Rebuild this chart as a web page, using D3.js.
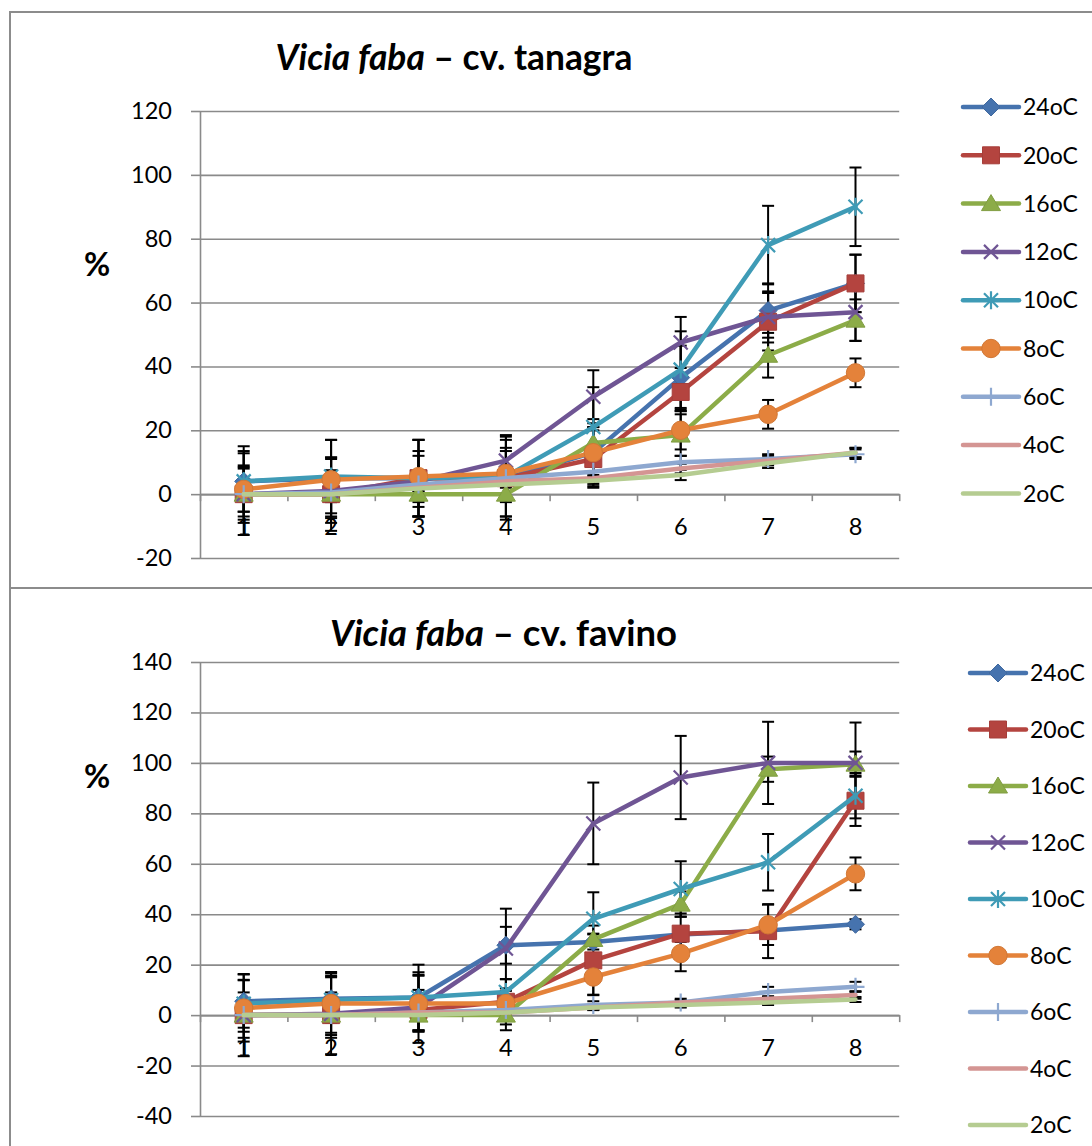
<!DOCTYPE html>
<html>
<head>
<meta charset="utf-8">
<script src="https://cdn.jsdelivr.net/npm/d3@7"></script>
<style>
  html, body { margin: 0; padding: 0; background: #fff; }
  svg { display: block; }
  text { font-family: Lato, "Open Sans", sans-serif; fill: #000; }
</style>
</head>
<body>
<svg id="chart" width="1092" height="1146"></svg>
<script>
// Germination (%) per day, by temperature
const categories = [1, 2, 3, 4, 5, 6, 7, 8];
const seriesNames = ["24oC", "20oC", "16oC", "12oC", "10oC", "8oC", "6oC", "4oC", "2oC"];
const seriesColors = ["#4673AE", "#B4443F", "#8CAC48", "#6F5594", "#3F9BB6", "#E4823A", "#8EA8D0", "#D49593", "#B5CC91"];
const seriesMarkers = ["diamond", "square", "triangle", "x", "asterisk", "circle", "plus", "none", "none"];

// cv. tanagra
const tanagraTicks = [-20, 0, 20, 40, 60, 80, 100, 120];
const tanagraValues = [
  [4, 5, 5, 5, 13, 36.5, 57.5, 66],
  [0, 0, 5, 5, 11, 32, 54, 66],
  [0, 0, 0, 0, 16, 18.5, 43.5, 54.5],
  [0, 1, 4, 10.5, 30.5, 47.5, 55.5, 57],
  [4, 5.5, 5, 5.5, 21, 39, 78, 90],
  [1.5, 4.5, 5.5, 6.5, 13, 20, 25, 38],
  [0, 0.5, 3, 5, 7, 10, 11, 12.5],
  [0, 0, 2, 4, 5, 8, 10.5, 13],
  [0, 0, 1.8, 3, 4.2, 6, 9.7, 13]
];
const tanagraErrors = [
  [11, 12, 12, 12, 10.5, 10, 8.5, 9],
  [9, 11.5, 12, 13, 9, 6, 9, 9],
  [8, 7.5, 7, 7, 5, 6.5, 7, 6.5],
  [12.8, 10, 8, 8, 8.3, 8, 8, 9],
  [9.5, 11.5, 12, 8, 12.5, 12, 12.3, 12.3],
  [7, 7, 8, 8, 8, 6, 4.5, 4.5],
  [1, 1, 1, 1, 1.5, 2, 1.5, 1.5],
  [0.5, 0.5, 1, 1, 1, 1.5, 1.5, 1.5],
  [0.5, 0.5, 1, 1, 1, 1.6, 1.5, 1.5]
];

// cv. favino
const favinoTicks = [-40, -20, 0, 20, 40, 60, 80, 100, 120, 140];
const favinoValues = [
  [5.5, 6.5, 7, 27.7, 29, 32, 33.5, 36],
  [0, 0, 2, 5.3, 21.7, 32.3, 33.3, 85],
  [0, 0, 0, 0, 30, 44, 97.5, 99.5],
  [0, 0.5, 3, 26.4, 76, 94.2, 100, 100],
  [4.5, 6, 7, 9.2, 38.2, 50, 60.6, 87],
  [2.8, 4.6, 4.6, 4.6, 15.1, 24.4, 35.8, 56],
  [0, 0, 1, 2, 4, 5, 9.2, 11.2],
  [0, 0, 1, 1, 3, 5, 6.5, 8],
  [0, 0, 0, 1, 3, 4, 5, 6.2]
];
const favinoErrors = [
  [8.3, 9, 9, 7.3, 3, 3, 3, 2],
  [6.6, 7, 8, 9, 13.8, 8, 10.7, 10],
  [9, 9, 6.6, 6, 2.3, 5, 5, 5],
  [16.3, 16, 14, 15.8, 16.2, 16.5, 16.3, 16],
  [9.5, 9, 13, 5, 10.5, 11, 11.2, 9],
  [13.3, 12.5, 11, 5, 7, 7, 8, 6.5],
  [0.5, 0.5, 1, 1, 1.5, 1.5, 2, 2],
  [0.5, 0.5, 0.5, 1, 1, 1, 1, 1.5],
  [0.5, 0.5, 0.5, 0.5, 1, 1, 1, 1]
];

const svg = d3.select("#chart");
const gridColor = "#8a8a8a";
const tickFont = 23.5;

function markerPath(type) {
  const h = 9;
  switch (type) {
    case "diamond": return `M0,${-h}L${h},0L0,${h}L${-h},0Z`;
    case "square": return `M${-8.5},${-8.5}h17v17h-17Z`;
    case "triangle": return `M0,${-9}L9.5,7L-9.5,7Z`;
    case "circle": return d3.symbol(d3.symbolCircle, Math.PI * 9.2 * 9.2)();
    case "x": return "M-7,-7L7,7M-7,7L7,-7";
    case "asterisk": return "M-7,-7L7,7M-7,7L7,-7M0,-9L0,9";
    case "plus": return "M0,-9L0,9M-9,0L9,0";
    default: return null;
  }
}
const strokedMarkers = new Set(["x", "asterisk", "plus"]);

function drawMarker(g, type, color, cx, cy) {
  const p = markerPath(type);
  if (!p) return;
  const m = g.append("path").attr("d", p).attr("transform", `translate(${cx},${cy})`);
  if (strokedMarkers.has(type)) {
    m.attr("fill", "none").attr("stroke", color).attr("stroke-width", 2.2);
  } else {
    m.attr("fill", color).attr("stroke", d3.color(color).darker(0.25)).attr("stroke-width", 1);
  }
}

function drawChart(cfg) {
  const g = svg.append("g");

  // outer chart frame
  g.append("rect")
    .attr("x", cfg.frame[0]).attr("y", cfg.frame[1])
    .attr("width", cfg.frame[2]).attr("height", cfg.frame[3])
    .attr("fill", "none").attr("stroke", "#8c8c8c").attr("stroke-width", 2);

  const x = d3.scaleBand().domain(categories).range([cfg.left, cfg.right]);
  const xEdge = d3.scaleLinear().domain([0, categories.length]).range([cfg.left, cfg.right]);
  const y = d3.scaleLinear().domain(cfg.domain).range([cfg.bottom, cfg.top]);
  const cx = c => x(c) + x.bandwidth() / 2;

  // horizontal gridlines
  g.append("g")
    .attr("transform", `translate(${cfg.left},0)`)
    .call(d3.axisLeft(y).tickValues(cfg.ticks).tickSize(-(cfg.right - cfg.left)).tickFormat(""))
    .call(a => a.select(".domain").remove())
    .call(a => a.selectAll("line").attr("stroke", gridColor).attr("stroke-width", 1.6));

  // value axis
  g.append("g")
    .attr("transform", `translate(${cfg.left},0)`)
    .call(d3.axisLeft(y).tickValues(cfg.ticks).tickSize(9).tickPadding(19).tickSizeOuter(0)
      .tickFormat(d => String(d)))
    .call(a => a.select(".domain").attr("stroke", gridColor).attr("stroke-width", 1.6))
    .call(a => a.selectAll("line").attr("stroke", gridColor).attr("stroke-width", 1.6))
    .call(a => a.selectAll("text").attr("font-size", tickFont).attr("font-family", "Lato"));

  // category axis crossing at zero
  const y0 = y(0);
  g.append("g")
    .attr("transform", `translate(0,${y0})`)
    .call(d3.axisBottom(xEdge).tickValues(d3.range(categories.length + 1)).tickSize(7).tickFormat("").tickSizeOuter(0))
    .call(a => a.select(".domain").attr("stroke", gridColor).attr("stroke-width", 1.6))
    .call(a => a.selectAll("line").attr("stroke", gridColor).attr("stroke-width", 1.6));
  g.append("g")
    .attr("transform", `translate(0,${y0})`)
    .call(d3.axisBottom(x).tickSize(0).tickPadding(24))
    .call(a => a.select(".domain").remove())
    .call(a => a.selectAll("text").attr("font-size", tickFont).attr("font-family", "Lato"));

  // error bars
  const eb = g.append("g").attr("stroke", "#000").attr("stroke-width", 2).attr("fill", "none");
  cfg.values.forEach((vals, i) => {
    vals.forEach((v, j) => {
      const e = cfg.errors[i][j];
      const px = cx(categories[j]);
      const yHi = y(v + e), yLo = y(v - e);
      eb.append("line").attr("x1", px).attr("x2", px).attr("y1", yHi).attr("y2", yLo);
      eb.append("line").attr("x1", px - 6).attr("x2", px + 6).attr("y1", yHi).attr("y2", yHi);
      eb.append("line").attr("x1", px - 6).attr("x2", px + 6).attr("y1", yLo).attr("y2", yLo);
    });
  });

  // series lines and markers
  const line = d3.line().x((d, j) => cx(categories[j])).y(d => y(d));
  cfg.values.forEach((vals, i) => {
    const sg = g.append("g");
    sg.append("path").datum(vals)
      .attr("d", line)
      .attr("fill", "none")
      .attr("stroke", seriesColors[i])
      .attr("stroke-width", 4.5)
      .attr("stroke-linejoin", "round")
      .attr("stroke-linecap", "round");
    vals.forEach((v, j) => drawMarker(sg, seriesMarkers[i], seriesColors[i], cx(categories[j]), y(v)));
  });

  // title, sized to its box width
  const t = g.append("text")
    .attr("x", cfg.titleX).attr("y", cfg.titleY)
    .attr("text-anchor", "middle")
    .attr("font-size", 27).attr("font-weight", "bold");
  t.append("tspan").attr("font-style", "italic").text("Vicia faba");
  t.append("tspan").text(" – " + cfg.cultivar);
  const tw = t.node().getComputedTextLength();
  if (tw > 0) t.attr("font-size", 27 * cfg.titleWidth / tw);

  // axis title
  g.append("text")
    .attr("x", cfg.pctX).attr("y", cfg.pctY)
    .attr("text-anchor", "middle")
    .attr("font-size", 32).attr("font-weight", "bold")
    .text("%");

  // legend
  const lg = g.append("g");
  seriesNames.forEach((name, i) => {
    const ly = cfg.legendY + i * cfg.legendStep;
    lg.append("line")
      .attr("x1", cfg.legendX).attr("x2", cfg.legendX + 56)
      .attr("y1", ly).attr("y2", ly)
      .attr("stroke", seriesColors[i]).attr("stroke-width", 4.5)
      .attr("stroke-linecap", "round");
    drawMarker(lg, seriesMarkers[i], seriesColors[i], cfg.legendX + 28, ly);
    lg.append("text")
      .attr("x", cfg.legendX + 60).attr("y", ly)
      .attr("dy", "0.36em")
      .attr("font-size", 23)
      .text(name);
  });
}

drawChart({
  frame: [10, 12, 1100, 576],
  left: 200, right: 899.2, top: 111, bottom: 558,
  domain: [-20, 120], ticks: tanagraTicks,
  values: tanagraValues, errors: tanagraErrors,
  cultivar: "cv. tanagra", titleX: 454, titleY: 70, titleWidth: 357,
  pctX: 97, pctY: 276,
  legendX: 963, legendY: 107, legendStep: 48.3
});

drawChart({
  frame: [10, 588, 1100, 600],
  left: 200, right: 899.2, top: 662, bottom: 1116,
  domain: [-40, 140], ticks: favinoTicks,
  values: favinoValues, errors: favinoErrors,
  cultivar: "cv. favino", titleX: 503.5, titleY: 646, titleWidth: 347,
  pctX: 97, pctY: 788,
  legendX: 970, legendY: 673, legendStep: 56.5
});
</script>
</body>
</html>
